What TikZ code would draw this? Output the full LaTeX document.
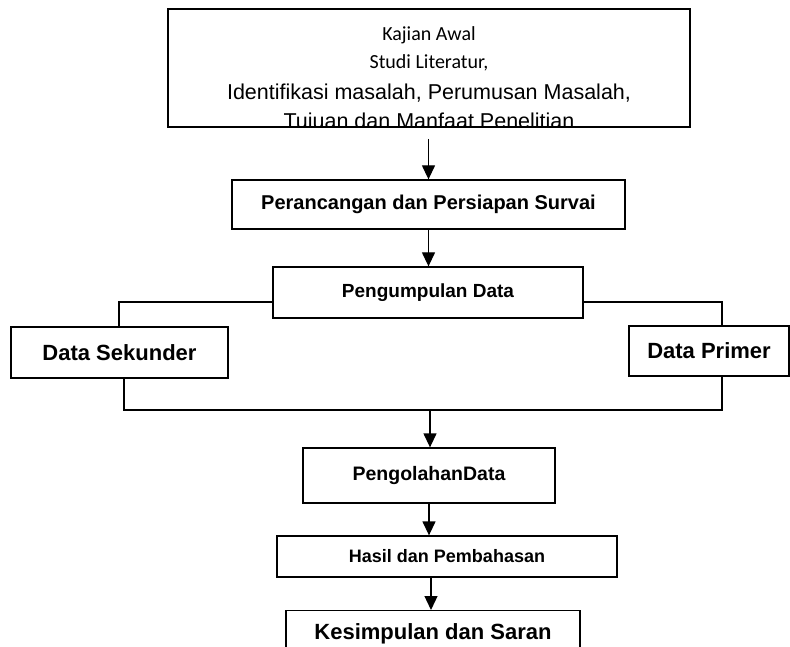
\documentclass[tikz,border=0pt]{standalone}
\usepackage{fontspec}
\setmainfont{Liberation Sans}
\newfontfamily\calibri{Carlito}
\usetikzlibrary{arrows.meta}
\begin{document}
\begin{tikzpicture}[x=1pt,y=-1pt,
  box/.style={draw=black,line width=1.3pt,fill=white,inner sep=0pt,align=center},
  flow/.style={line width=1.3pt,-{Triangle[length=14pt,width=13pt]}},
  link/.style={line width=1.3pt}]
\useasboundingbox[fill=white] (0,0) rectangle (790,647);
% top box
\node[box,minimum width=522pt,minimum height=118pt] (top) at (429,68) {};
\begin{scope}
\clip (top.north west) rectangle (top.south east);
\node[anchor=base,inner sep=0pt] (t1) at (429,41) {\calibri\fontsize{20}{24}\selectfont Kajian Awal};
\node[anchor=base,inner sep=0pt] (t2) at (429,69) {\calibri\fontsize{20}{24}\selectfont Studi Literatur,};
\node[anchor=base,inner sep=0pt] (t3) at (429,100) {\fontsize{21.5}{26}\selectfont Identifikasi masalah, Perumusan Masalah,};
\node[anchor=base,inner sep=0pt] (t4) at (429,129) {\fontsize{21.5}{26}\selectfont Tujuan dan Manfaat Penelitian};
\end{scope}
\draw[line width=1.3pt] (top.north west) rectangle (top.south east);
% other boxes
\node[box,minimum width=393pt,minimum height=49pt] (per) at (428.5,204.5) {\fontsize{20}{24}\selectfont\bfseries Perancangan dan Persiapan Survai};
\node[box,minimum width=310pt,minimum height=51pt] (pen) at (428,292.5) {\fontsize{19}{23}\selectfont\bfseries Pengumpulan Data};
\node[box,minimum width=217pt,minimum height=51pt] (sek) at (119.5,352.5) {\fontsize{22}{26}\selectfont\bfseries Data Sekunder};
\node[box,minimum width=160pt,minimum height=50pt] (pri) at (709,351) {\fontsize{22}{26}\selectfont\bfseries Data Primer};
\node[box,minimum width=252pt,minimum height=55pt] (olah) at (429,475.5) {\fontsize{19.5}{23}\selectfont\bfseries PengolahanData};
\node[box,minimum width=340pt,minimum height=41pt] (hasil) at (447,556.5) {\fontsize{18}{22}\selectfont\bfseries Hasil dan Pembahasan};
\node[box,minimum width=294pt,minimum height=60pt,anchor=north] (kes) at (433,610) {};
\node[anchor=base,inner sep=0pt] (kt) at (433,639) {\fontsize{22}{26}\selectfont\bfseries Kesimpulan dan Saran};
% connectors
\coordinate (a0) at (428.5,139);
\draw[flow] (a0) -- (per.north);
\draw[flow] (per.south) -- (per.south |- pen.north);
\coordinate (jl) at (119,302);
\coordinate (jr) at (722,302);
\draw[link] (jl -| pen.west) -- (jl) -- (jl |- sek.north);
\draw[link] (jr -| pen.east) -- (jr) -- (jr |- pri.north);
\coordinate (bl) at (124,410);
\coordinate (br) at (722,410);
\coordinate (bm) at (430,410);
\draw[link] (bl |- sek.south) -- (bl) -- (br) -- (br |- pri.south);
\draw[flow] (bm) -- (bm |- olah.north);
\draw[flow] (olah.south) -- (olah.south |- hasil.north);
\coordinate (hm) at (431,577);
\draw[flow] (hm) -- (hm |- kes.north);
\end{tikzpicture}
\end{document}
